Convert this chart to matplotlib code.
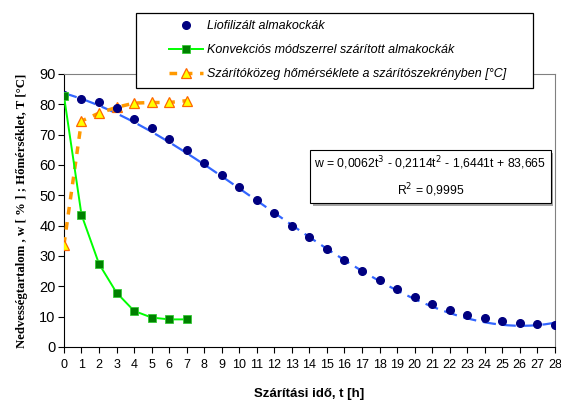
import numpy as np
import matplotlib
matplotlib.use('Agg')
import matplotlib.pyplot as plt
import matplotlib.patheffects as pe
from matplotlib.patches import Rectangle

# idő [h]
t_lio = list(range(0, 29))
w_lio = [83.0, 81.7, 80.6, 78.7, 75.1, 72.1, 68.7, 64.9, 60.7, 56.8, 52.7, 48.4, 44.2, 40.0, 36.1,
         32.3, 28.7, 25.2, 22.0, 19.0, 16.5, 14.2, 12.1, 10.6, 9.4, 8.6, 7.9, 7.5, 7.2]

t_konv = list(range(0, 8))
w_konv = [82.8, 43.6, 27.4, 17.9, 11.9, 9.7, 9.1, 9.1]

t_temp = list(range(0, 8))
temp = [33.7, 74.5, 77.1, 79.0, 80.4, 80.6, 80.6, 81.2]

# trendvonal együtthatói (az egyenletből)
trend_coef = [0.0062, -0.2114, -1.6441, 83.665]
eq_text = 'w = 0,0062t$^3$ - 0,2114t$^2$ - 1,6441t + 83,665\nR$^2$ = 0,9995'

plt.rcParams['font.family'] = ['Liberation Sans', 'DejaVu Sans']

fig = plt.figure(figsize=(5.61, 4.01), dpi=100)
ax = fig.add_axes([0.114, 0.1347, 0.875, 0.6808])

tt = np.linspace(0, 28, 200)
ax.plot(tt, np.polyval(trend_coef, tt), color='#3366FF', linewidth=1.6, dashes=(6, 3), zorder=2)

ax.plot(t_lio, w_lio, linestyle='none', marker='o', markersize=5.5, color='#000080',
        label='Liofilizált almakockák', zorder=4)
ax.plot(t_konv, w_konv, '-', color='#00FF00', linewidth=1.4, marker='s', markersize=5.5,
        markerfacecolor='#008000', markeredgecolor='#33CC33', markeredgewidth=0.6,
        label='Konvekciós módszerrel szárított almakockák', zorder=5)
ax.plot(t_temp, temp, color='#FF9900', linewidth=2.5, dashes=(2.2, 2.2), marker='^', markersize=7,
        markerfacecolor='#FFFF00', markeredgecolor='#FF6600', markeredgewidth=0.9,
        label='Szárítóközeg hőmérséklete a szárítószekrényben [°C]', zorder=3)

ax.set_xlim(0, 28)
ax.set_ylim(0, 90)
ax.set_xticks(range(0, 29))
ax.set_yticks(range(0, 91, 10))
ax.tick_params(axis='x', labelsize=9, length=4, width=0.8, pad=5)
ax.tick_params(axis='y', labelsize=10.5, length=4, width=0.8, pad=2)
for s in ['top', 'right']:
    ax.spines[s].set_color('#808080')
for s in ['left', 'bottom']:
    ax.spines[s].set_color('black')

ax.set_xlabel('Szárítási idő, t [h]', fontsize=9.5, fontweight='bold', labelpad=12)
ax.set_ylabel('Nedvességtartalom , w [ % ] ; Hőmérséklet, T [°C]', fontsize=9.2,
              fontweight='bold', family=['Liberation Serif', 'DejaVu Serif'], labelpad=8)

txt = ax.text(20.9, 56.2, eq_text, fontsize=8.8, ha='center', va='center', linespacing=1.7,
              bbox=dict(boxstyle='square,pad=0.35', facecolor='white', edgecolor='black', linewidth=0.8),
              zorder=6)
txt.get_bbox_patch().set_path_effects([pe.SimplePatchShadow(offset=(2, -2), alpha=0.5), pe.Normal()])

# legend box (frame drawn separately, 136..533 x 13..88 px)
W, H = 561, 401
frame = Rectangle((136 / W, 1 - 88 / H), (533 - 136) / W, 75 / H, transform=fig.transFigure,
                  facecolor='white', edgecolor='black', linewidth=0.9, zorder=10)
fig.add_artist(frame)
leg = fig.legend(loc='center left', bbox_to_anchor=(169 / W, 1 - 50 / H),
                 prop={'style': 'italic', 'size': 9}, handlelength=2.72, handletextpad=0.32,
                 labelspacing=0.95, borderpad=0, borderaxespad=0, frameon=False)
leg.set_zorder(11)

fig.savefig('out.png', dpi=100)
